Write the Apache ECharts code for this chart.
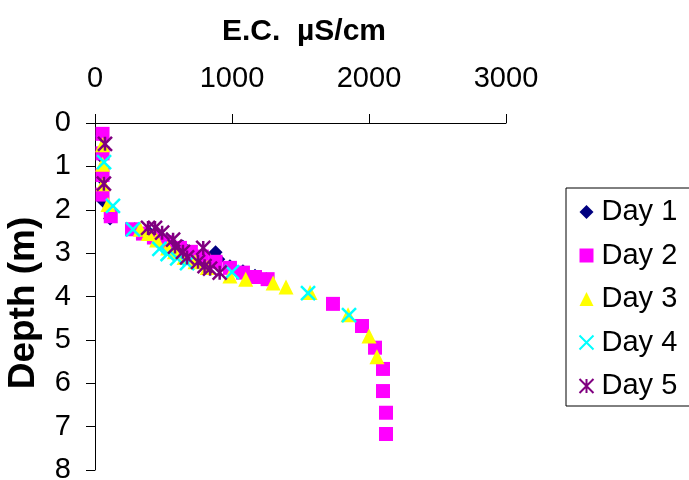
<!DOCTYPE html>
<html>
<head>
<meta charset="utf-8">
<script src="https://cdn.jsdelivr.net/npm/echarts@6/dist/echarts.min.js"></script>
<style>html,body{margin:0;padding:0;background:#fff}#c{width:689px;height:480px}</style>
</head>
<body>
<div id="c"></div>
<script>
const seriesNames = ['Day 1','Day 2','Day 3','Day 4','Day 5'];
const xTicks = [0, 1000, 2000, 3000];
const yTicks = [0,1,2,3,4,5,6,7,8];
// [E.C. µS/cm, depth m]
const day1 = [[50,0.3],[55,0.8],[55,1.3],[60,1.8],[110,2.2],[290,2.45],[400,2.55],[520,2.72],[640,2.85],[880,2.98],[900,3.14],[985,3.3],[1080,3.42],[1168,3.52],[1250,3.6]];
const day2 = [[55,0.25],[55,0.7],[55,1.2],[55,1.65],[115,2.15],[270,2.45],[350,2.55],[430,2.64],[520,2.75],[620,2.88],[700,2.97],[780,3.08],[880,3.2],[985,3.34],[1080,3.45],[1168,3.55],[1260,3.6],[1737,4.17],[1949,4.68],[2044,5.18],[2102,5.67],[2102,6.18],[2124,6.68],[2124,7.17]];
const day3 = [[55,0.5],[55,0.95],[60,1.4],[95,1.88],[330,2.45],[390,2.55],[450,2.7],[530,2.88],[580,2.97],[650,3.1],[730,3.2],[820,3.33],[985,3.53],[1100,3.6],[1300,3.69],[1394,3.78],[1570,3.91],[1847,4.42],[2000,4.91],[2058,5.39]];
const day4 = [[66,0.9],[131,1.91],[277,2.45],[470,2.9],[530,3.02],[600,3.12],[672,3.23],[1000,3.44],[1555,3.92],[1854,4.43]];
const day5 = [[73,0.48],[65,1.4],[387,2.42],[438,2.42],[490,2.53],[570,2.69],[584,2.85],[642,2.97],[672,3.1],[790,2.88],[752,3.2],[800,3.3],[840,3.36],[910,3.45]];

const FONT = 'Liberation Sans, Arial, sans-serif';
const chart = echarts.init(document.getElementById('c'), null, {renderer:'canvas'});
const xPath = 'path://M0,0L10,10M10,0L0,10';
const starPath = 'path://M0,0L10,10M10,0L0,10M5,0L5,10';
chart.setOption({
  animation: false,
  backgroundColor: '#fff',
  title: {
    text: 'E.C.  µS/cm', left: 299, top: 12, textAlign: 'center',
    textStyle: {fontFamily: FONT, fontSize: 30, fontWeight: 'bold', color: '#000'}
  },
  graphic: [{
    type: 'text', x: 24, y: 303, rotation: Math.PI / 2,
    style: {text: 'Depth (m)', fontFamily: FONT, fontSize: 37, fontWeight: 'bold', fill: '#000', align: 'center', verticalAlign: 'middle'}
  }],
  grid: {left: 95, top: 123, width: 411, height: 347, containLabel: false, outerBoundsMode: 'none'},
  xAxis: {
    type: 'value', position: 'top', min: xTicks[0], max: xTicks[xTicks.length-1], interval: 1000,
    axisLine: {show: true, onZero: false, lineStyle: {color: '#000', width: 1}},
    axisTick: {show: true, inside: false, length: 9, lineStyle: {color: '#000'}},
    axisLabel: {fontFamily: FONT, fontSize: 29, color: '#000', margin: 30, formatter: v => String(v)},
    splitLine: {show: false}
  },
  yAxis: {
    type: 'value', inverse: true, min: yTicks[0], max: yTicks[yTicks.length-1], interval: 1,
    axisLine: {show: true, onZero: false, lineStyle: {color: '#000', width: 1}},
    axisTick: {show: true, inside: false, length: 9, lineStyle: {color: '#000'}},
    axisLabel: {fontFamily: FONT, fontSize: 29, color: '#000', margin: 24, formatter: v => String(v)},
    splitLine: {show: false}
  },
  legend: {
    orient: 'vertical', left: 566, top: 188,
    padding: [9, 100, 5, 11], itemGap: 13.5, itemWidth: 14, itemHeight: 14,
    borderColor: '#000', borderWidth: 1,
    textStyle: {fontFamily: FONT, fontSize: 29, color: '#000', lineHeight: 30, padding: [0,0,0,3]},
    data: seriesNames
  },
  series: [
    {name: seriesNames[0], type: 'scatter', data: day1, symbol: 'diamond', symbolSize: 14, itemStyle: {color: '#000080', opacity: 1}},
    {name: seriesNames[1], type: 'scatter', data: day2, symbol: 'rect', symbolSize: 14, itemStyle: {color: '#FF00FF', opacity: 1}},
    {name: seriesNames[2], type: 'scatter', data: day3, symbol: 'triangle', symbolSize: 15, itemStyle: {color: '#FFFF00', opacity: 1}},
    {name: seriesNames[3], type: 'scatter', data: day4, symbol: xPath, symbolSize: 14, itemStyle: {color: 'none', borderColor: '#00FFFF', borderWidth: 2.5, opacity: 1}},
    {name: seriesNames[4], type: 'scatter', data: day5, symbol: starPath, symbolSize: 14, itemStyle: {color: 'none', borderColor: '#800080', borderWidth: 2.5, opacity: 1}}
  ]
});
</script>
</body>
</html>
